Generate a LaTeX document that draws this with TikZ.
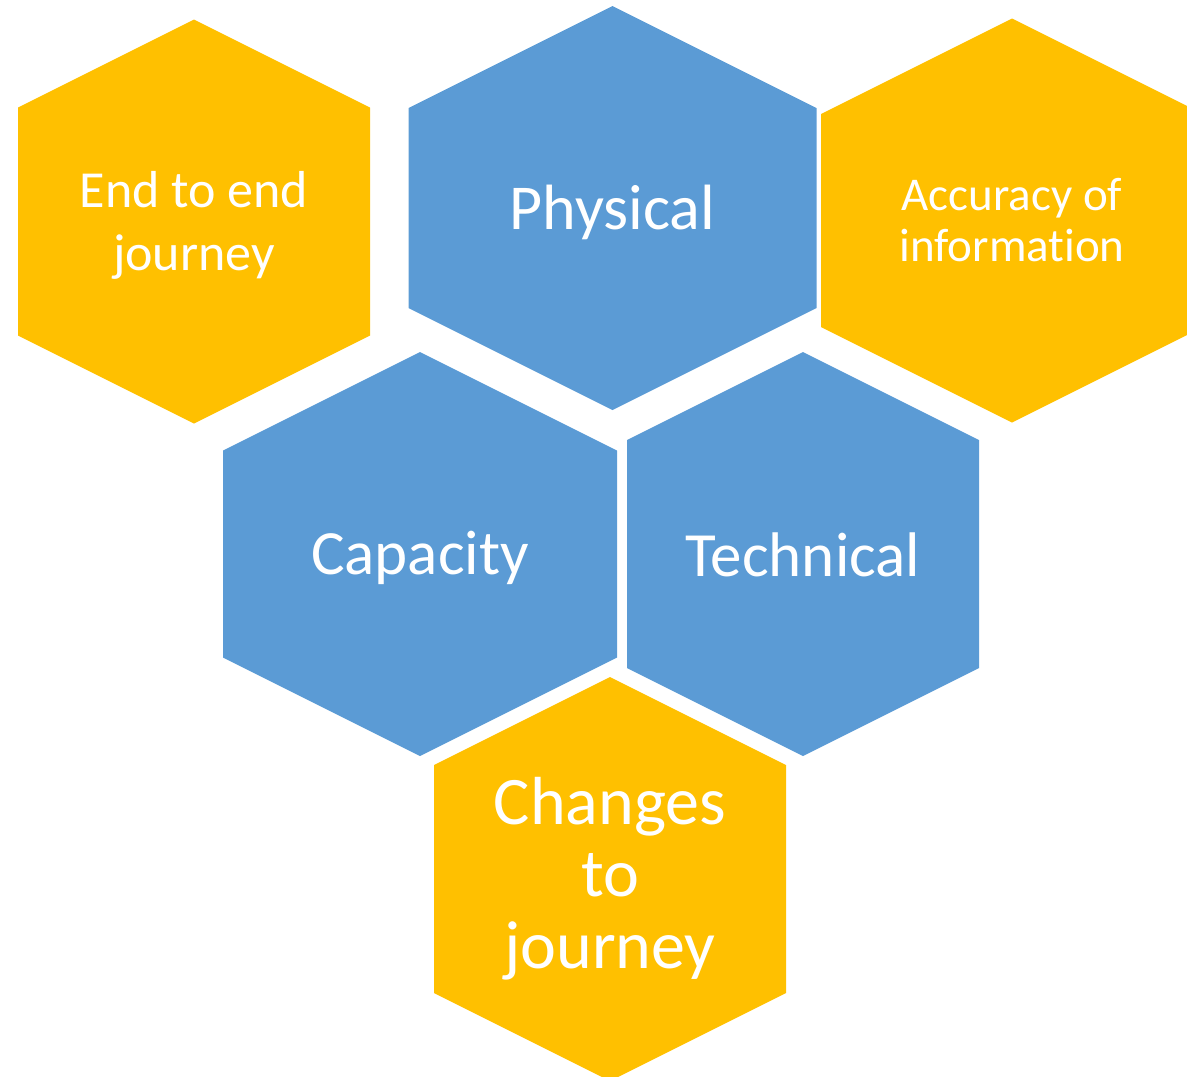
\documentclass[tikz,border=0pt]{standalone}
\usepackage{fontspec}
\setmainfont{Carlito}[RawFeature={-liga}]
\usetikzlibrary{positioning}
\definecolor{hexorange}{HTML}{FFC000}
\definecolor{hexblue}{HTML}{5B9BD5}
\tikzset{hexlabel/.style={text=white, align=center, inner sep=0pt}}

\begin{document}
\begin{tikzpicture}[x=1pt,y=-1pt]

		\useasboundingbox (0,0) rectangle (1187,1077);
		\clip (0,0) rectangle (1187,1077);

		% hexagons: centre x / centre y / half width / colour
		\foreach \cx/\cy/\w/\col in {194/221.5/176/hexorange, 612.5/208/204/hexblue, 1012/220.5/191/hexorange, 420/554/197/hexblue, 803/554/176/hexblue, 610/879/176/hexorange}
			\fill[\col] (\cx,\cy-202) -- (\cx+\w,\cy-202+\w/2) -- (\cx+\w,\cy+202-\w/2) -- (\cx,\cy+202) -- (\cx-\w,\cy+202-\w/2) -- (\cx-\w,\cy-202+\w/2) -- cycle;

		\node[hexlabel, font=\fontsize{52}{63}\selectfont] (endtoend) at (194,225.5) {End to end\\journey};
		\node[hexlabel, font=\fontsize{64}{77}\selectfont] (physical) at (612.5,212) {Physical};
		\node[hexlabel, font=\fontsize{47}{51}\selectfont] (accuracy) at (1012,220.5) {Accuracy of\\information};
		\node[hexlabel, font=\fontsize{63}{77}\selectfont] (capacity) at (420,558) {Capacity};
		\node[hexlabel, font=\fontsize{63}{77}\selectfont] (technical) at (803,555) {Technical};
		\node[hexlabel, font=\fontsize{68}{72}\selectfont] (changes) at (610,879) {Changes\\to\\journey};

\end{tikzpicture}
\end{document}
